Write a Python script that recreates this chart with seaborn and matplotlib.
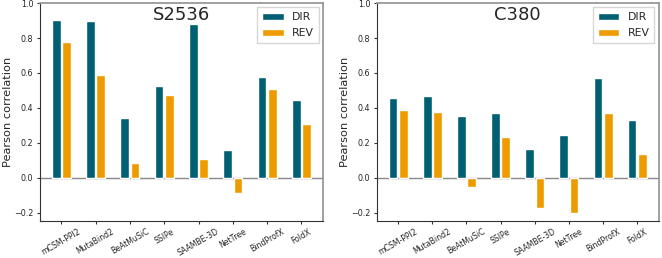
import matplotlib
matplotlib.use("Agg")
import matplotlib.pyplot as plt
import pandas as pd
import seaborn as sns

METHODS = ["mCSM-PPI2", "MutaBind2", "BeAtMuSiC", "SSIPe", "SAAMBE-3D", "NetTree", "BindProfX", "FoldX"]
S2536_DIR = [0.905, 0.897, 0.343, 0.528, 0.878, 0.160, 0.575, 0.445]
S2536_REV = [0.780, 0.588, 0.085, 0.475, 0.105, -0.088, 0.510, 0.310]
C380_DIR = [0.455, 0.467, 0.352, 0.372, 0.163, 0.243, 0.570, 0.328]
C380_REV = [0.390, 0.378, -0.053, 0.233, -0.172, -0.202, 0.372, 0.138]
PALETTE = {"DIR": "#005f73", "REV": "#ee9b00"}


def to_long(dir_vals, rev_vals):
    rows = []
    for m, d, r in zip(METHODS, dir_vals, rev_vals):
        rows.append({"method": m, "dir": "DIR", "r": d})
        rows.append({"method": m, "dir": "REV", "r": r})
    return pd.DataFrame(rows)


def draw_panel(ax, df, title):
    sns.barplot(data=df, x="method", y="r", hue="dir", order=METHODS,
                hue_order=["DIR", "REV"], palette=PALETTE, width=0.6, gap=0.15,
                saturation=1, ax=ax)
    ax.axhline(0, color="#888888", linewidth=1, zorder=0)
    ax.set_ylim(-0.25, 1.0)
    ax.set_xlim(-0.63, 7.63)
    ax.set_yticks([-0.2, 0.0, 0.2, 0.4, 0.6, 0.8, 1.0])
    ax.set_yticklabels(["\u22120.2", "0.0", "0.2", "0.4", "0.6", "0.8", "1.0"])
    ax.set_xlabel("")
    ax.set_ylabel("Pearson correlation", fontsize=8.2, labelpad=1)
    ax.tick_params(axis="both", bottom=True, left=True, length=2.5, width=0.8,
                   color="#333333", pad=2)
    ax.tick_params(axis="y", labelsize=5.8)
    ax.tick_params(axis="x", labelsize=5.6, rotation=30, pad=1.5)
    for lab in ax.get_xticklabels():
        lab.set_ha("center")
    ax.text(0.5, 0.985, title, transform=ax.transAxes, ha="center", va="top", fontsize=13)
    for side in ["top", "right"]:
        ax.spines[side].set_color("#999999")
        ax.spines[side].set_linewidth(1.3)
    for side in ["left", "bottom"]:
        ax.spines[side].set_color("#333333")
        ax.spines[side].set_linewidth(0.8)
    ax.legend(loc="upper right", fontsize=7.8, title=None, handlelength=2.0,
              handleheight=0.55, borderpad=0.45, labelspacing=0.55, handletextpad=0.75,
              fancybox=False, edgecolor="#cccccc", borderaxespad=0.4)


def main():
    sns.set_style("white")
    plt.rcParams["font.family"] = ["DejaVu Sans"]
    fig = plt.figure(figsize=(6.62, 2.58), dpi=100)
    ax1 = fig.add_axes([0.060, 0.142, 0.428, 0.846])
    ax2 = fig.add_axes([0.569, 0.142, 0.426, 0.846])
    draw_panel(ax1, to_long(S2536_DIR, S2536_REV), "S2536")
    draw_panel(ax2, to_long(C380_DIR, C380_REV), "C380")
    fig.savefig("out.png", dpi=100)


if __name__ == "__main__":
    main()
